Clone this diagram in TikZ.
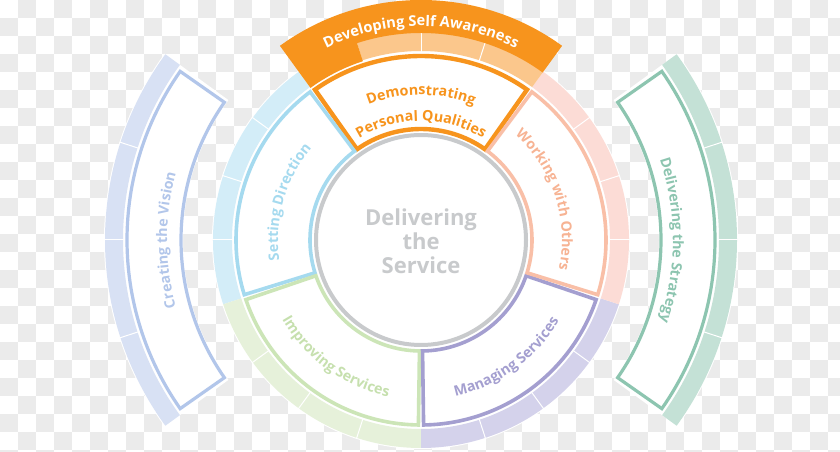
\documentclass[tikz,border=0pt]{standalone}
\usepackage{fontspec}
\setmainfont{Open Sans}
\usetikzlibrary{decorations.text}
\definecolor{checker}{HTML}{EBEBEB}
\definecolor{orangeD}{HTML}{F7941D}
\definecolor{orangeL}{HTML}{FBC78C}
\definecolor{blueD}{HTML}{A5DAEF}
\definecolor{blueL}{HTML}{D3EDF8}
\definecolor{salmonD}{HTML}{F9BFA7}
\definecolor{salmonL}{HTML}{FCDCD6}
\definecolor{salmonT}{HTML}{F7B393}
\definecolor{purpleD}{HTML}{A49FD0}
\definecolor{purpleL}{HTML}{D4D2EB}
\definecolor{greenD}{HTML}{CCE5B7}
\definecolor{greenL}{HTML}{E6F1DA}
\definecolor{greenT}{HTML}{C6E0AE}
\definecolor{visionD}{HTML}{B2C6EA}
\definecolor{visionL}{HTML}{D8E1F4}
\definecolor{strategyD}{HTML}{8DC5B0}
\definecolor{strategyL}{HTML}{C4E1D6}
\definecolor{greyC}{HTML}{C8CACC}
\newcommand\annulus[4]{(#1:#4) arc[start angle=#1,end angle=#2,radius=#4] -- (#2:#3) arc[start angle=#2,end angle=#1,radius=#3] -- cycle}
\newcommand\arclabel[6][14.3]{\path[decorate,decoration={text along path,text align=center,
    text={|\fontsize{#1}{#1}\selectfont\bfseries\color{#5}|#6}}]
    (#2:#4) arc[start angle=#2,end angle=#3,radius=#4];}
\begin{document}
\begin{tikzpicture}[x=1pt,y=1pt,
    ring/.style={line width=3.6pt,fill=white},
    sep/.style={draw=white,line width=1pt}]
\useasboundingbox (0,0) rectangle (840,452);
\begin{scope}
  \clip (0,0) rectangle (840,452);
  \foreach \i in {0,...,46}
    \foreach \j in {0,...,25}{
      \pgfmathtruncatemacro\odd{mod(\i+\j,2)}
      \ifnum\odd=1 \fill[checker] (18*\i,452-18*\j) rectangle ++(18,-18);\fi}
\end{scope}
\coordinate (C) at (421,212);
\begin{scope}[shift={(C)}]
  \fill[white] (0,0) circle (209);
  \fill[blueL] \annulus{126}{198}{189}{208};
  \fill[greenL] \annulus{198}{270}{189}{208};
  \fill[purpleL] \annulus{270}{342}{189}{208};
  \fill[salmonL] \annulus{-18}{54}{189}{208};
  \fill[orangeL] \annulus{54}{108}{189}{208};
  \foreach \a in {0,18,36,72,90,144,162,180,216,234,252,288,306,324}
    \draw[sep] (\a:188) -- (\a:209);
  \fill[orangeD] (54:207) arc[start angle=54,end angle=108,radius=207] -- (108:188)
    arc[start angle=108,end angle=126,radius=188] -- (126:240)
    arc[start angle=126,end angle=54,radius=240] -- cycle;
  \draw[ring,draw=orangeD,line width=4.4pt] \annulus{54.8}{125.2}{111}{184};
  \draw[ring,draw=blueD] \annulus{126.8}{197.2}{111}{185};
  \draw[ring,draw=greenD] \annulus{198.8}{269.2}{111}{185};
  \draw[ring,draw=purpleD] \annulus{270.8}{341.2}{111}{185};
  \draw[ring,draw=salmonD] \annulus{-17.2}{53.2}{111}{185};
  \draw[line width=4pt,draw=greyC,fill=white] (0,0) circle (105);
  \fill[white] \annulus{144}{216}{238}{317};
  \fill[visionL] \annulus{144}{216}{298}{316};
  \foreach \a in {162,180,198} \draw[sep] (\a:297) -- (\a:317);
  \draw[ring,line width=3.2pt,draw=visionD] \annulus{145}{215}{240}{294};
  \fill[white] \annulus{-36}{36}{238}{317};
  \fill[strategyL] \annulus{-36}{36}{298}{316};
  \foreach \a in {-18,0,18} \draw[sep] (\a:297) -- (\a:317);
  \draw[ring,line width=3.2pt,draw=strategyD] \annulus{35}{-35}{240}{294};
  \arclabel[14.7]{126}{54}{214}{white}{Developing Self Awareness}
  \arclabel{126}{54}{145}{orangeD}{Demonstrating}
  \arclabel{126}{54}{119}{orangeD}{Personal Qualities}
  \arclabel{200}{128}{143}{blueD}{Setting Direction}
  \arclabel{54}{-18}{141}{salmonT}{Working with Others}
  \arclabel{198}{270}{160}{greenT}{Improving Services}
  \arclabel{272}{340}{160}{purpleD}{Managing Services}
  \arclabel{215}{145}{254}{visionD}{Creating the Vision}
  \arclabel{35}{-35}{252}{strategyD}{Delivering the Strategy}
  \node[font=\fontsize{22}{24}\selectfont\bfseries,text=greyC,align=center] (core) at (0,-1)
    {Delivering\\the\\Service};
\end{scope}
\end{tikzpicture}
\end{document}
